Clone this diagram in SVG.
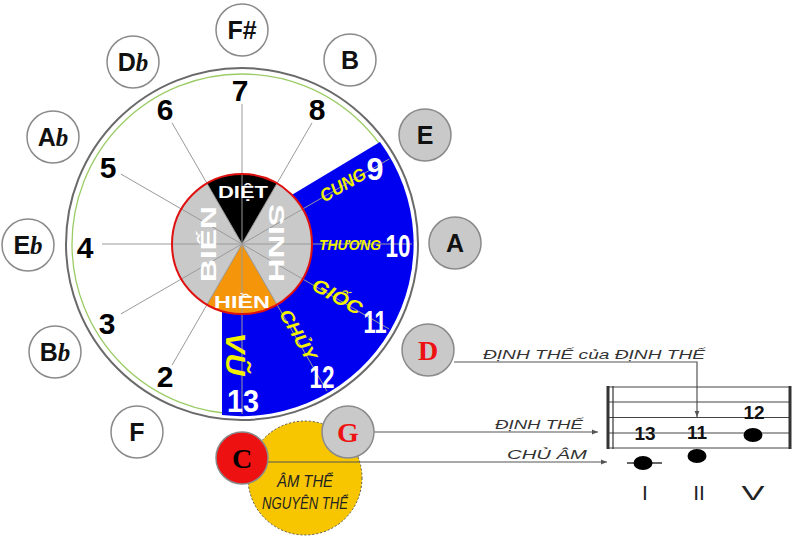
<svg xmlns="http://www.w3.org/2000/svg" width="795" height="537" viewBox="0 0 795 537">
<defs>
<marker id="arr" viewBox="0 0 10 10" refX="10" refY="5" markerWidth="8" markerHeight="6" orient="auto" markerUnits="userSpaceOnUse">
<path d="M0,1 L10,5 L0,9 Z" fill="#555"/>
</marker>
<style>
.note circle{stroke:#8a8a8a;stroke-width:1.5}
.w{fill:#fff}
.g{fill:#c9c9c9}
.nl{font-family:"Liberation Sans",Arial,sans-serif;font-weight:bold;font-size:25px;text-anchor:middle;fill:#111}
.rl{font-family:"Liberation Serif","Times New Roman",serif;font-weight:bold;font-size:28px;text-anchor:middle}
.fl{font-family:"Liberation Serif",serif;font-style:italic;font-weight:bold}
.num{font-family:"Liberation Sans",Arial,sans-serif;font-weight:bold;font-size:30px;text-anchor:middle;fill:#000}
.wn{font-family:"Liberation Sans",Arial,sans-serif;font-weight:bold;font-size:31px;text-anchor:middle;fill:#fff}
.yl{font-family:"Liberation Sans",Arial,sans-serif;font-style:italic;font-weight:bold;text-anchor:middle;fill:#f2f200}
.il{font-family:"Liberation Sans",Arial,sans-serif;font-weight:bold;text-anchor:middle;fill:#fff}
.rad{stroke:#9a9a9a;stroke-width:1}
.conn{stroke:#555;stroke-width:1.2;fill:none}
.lab{font-family:"Liberation Sans",Arial,sans-serif;font-style:italic;font-size:13px;fill:#333}
.sl{stroke:#444;stroke-width:1}
.sn{font-family:"Liberation Sans",Arial,sans-serif;font-weight:bold;font-size:19px;text-anchor:middle;fill:#111}
.rn{font-family:"Liberation Sans",Arial,sans-serif;font-size:21px;text-anchor:middle;fill:#222}
.at{font-family:"Liberation Sans",Arial,sans-serif;font-style:italic;font-size:16px;text-anchor:middle;fill:#222}
</style>
</defs>

<g id="wheel">
<circle cx="242" cy="244" r="176" fill="#fff" stroke="#6a6a6a" stroke-width="2"/>
<circle cx="242" cy="244" r="170" fill="none" stroke="#9ccc66" stroke-width="1.3"/>
<path d="M270,208 L380,142 A172,172 0 0 1 222,415 L222,290 L242,244 Z" fill="#0000f0"/>
<circle cx="242" cy="244" r="70" fill="#c9c9c9"/>
<path d="M242,244 L207,183.4 A70,70 0 0 1 277,183.4 Z" fill="#000"/>
<path d="M242,244 L277,304.6 A70,70 0 0 1 207,304.6 Z" fill="#f5960a"/>
</g>

<g id="connectors">
<line class="rad" x1="242" y1="244" x2="242" y2="104"/>
<line class="rad" x1="242" y1="244" x2="312" y2="122.8"/>
<line class="rad" x1="242" y1="244" x2="172" y2="122.8"/>
<line class="rad" x1="242" y1="244" x2="120.8" y2="174"/>
<line class="rad" x1="242" y1="244" x2="102" y2="244"/>
<line class="rad" x1="242" y1="244" x2="120.8" y2="314"/>
<line class="rad" x1="242" y1="244" x2="172" y2="365.2"/>
<line class="rad" x1="242" y1="244" x2="389.2" y2="159"/>
<line class="rad" x1="242" y1="244" x2="412" y2="244"/>
<line class="rad" x1="242" y1="244" x2="389.2" y2="329"/>
<line class="rad" x1="242" y1="244" x2="327" y2="391.2"/>
<line class="rad" x1="242" y1="244" x2="242" y2="414"/>
</g>

<g id="inner-ring">
<circle cx="242" cy="244" r="70" fill="none" stroke="#e01010" stroke-width="2"/>
<text class="il" x="243" y="198" font-size="17" textLength="50" lengthAdjust="spacingAndGlyphs">DIỆT</text>
<text class="il" x="242" y="308" font-size="17" textLength="56" lengthAdjust="spacingAndGlyphs">HIỀN</text>
<text class="il" transform="translate(277,243) rotate(90)" x="0" y="8" font-size="22" textLength="78" lengthAdjust="spacingAndGlyphs">SINH</text>
<text class="il" transform="translate(208,244) rotate(-90)" x="0" y="8" font-size="22" textLength="76" lengthAdjust="spacingAndGlyphs">BIẾN</text>
</g>

<g id="numbers">
<text class="num" x="240" y="101">7</text>
<text class="num" x="165" y="120">6</text>
<text class="num" x="317" y="120">8</text>
<text class="num" x="108" y="178">5</text>
<text class="num" x="85" y="258">4</text>
<text class="num" x="107" y="334">3</text>
<text class="num" x="165" y="387">2</text>
</g>

<g id="blue-labels">
<text class="wn" x="375" y="180" textLength="17" lengthAdjust="spacingAndGlyphs">9</text>
<text class="wn" x="398" y="257" textLength="25" lengthAdjust="spacingAndGlyphs">10</text>
<text class="wn" x="375" y="333" textLength="23" lengthAdjust="spacingAndGlyphs">11</text>
<text class="wn" x="322" y="388" textLength="25" lengthAdjust="spacingAndGlyphs">12</text>
<text class="wn" x="243" y="412" font-size="36" textLength="32" lengthAdjust="spacingAndGlyphs">13</text>
<text class="yl" transform="translate(343,185) rotate(-30)" x="0" y="6" font-size="18" textLength="50" lengthAdjust="spacingAndGlyphs">CUNG</text>
<text class="yl" x="350" y="250" font-size="15" textLength="62" lengthAdjust="spacingAndGlyphs">THƯƠNG</text>
<text class="yl" transform="translate(337,297) rotate(30)" x="0" y="6" font-size="19" textLength="54" lengthAdjust="spacingAndGlyphs">GIỐC</text>
<text class="yl" transform="translate(298,335) rotate(60)" x="0" y="6" font-size="18" textLength="56" lengthAdjust="spacingAndGlyphs">CHỦY</text>
<text class="yl" transform="translate(235,354) rotate(90)" x="0" y="9" font-size="27" textLength="43" lengthAdjust="spacingAndGlyphs">VŨ</text>
</g>

<g id="am-the">
<circle cx="305" cy="478" r="57" fill="#f7c600" stroke="#555" stroke-width="1" stroke-dasharray="2,2"/>
<text class="at" x="305" y="487" textLength="56" lengthAdjust="spacingAndGlyphs">ÂM THỂ</text>
<text class="at" x="305" y="509" textLength="86" lengthAdjust="spacingAndGlyphs">NGUYÊN THỂ</text>
</g>

<g id="links">
<polyline class="conn" points="454,362 697,362 697,417" marker-end="url(#arr)"/>
<line class="conn" x1="374" y1="432" x2="598" y2="432" marker-end="url(#arr)"/>
<line class="conn" x1="268" y1="462" x2="607" y2="462" marker-end="url(#arr)"/>
<text class="lab" x="483" y="359" textLength="222" lengthAdjust="spacingAndGlyphs">ĐỊNH THẾ của ĐỊNH THẾ</text>
<text class="lab" x="495" y="429" textLength="88" lengthAdjust="spacingAndGlyphs">ĐỊNH THẾ</text>
<text class="lab" x="507" y="459" textLength="80" lengthAdjust="spacingAndGlyphs">CHỦ ÂM</text>
</g>

<g id="note-Fsharp" class="note"><circle class="w" cx="242" cy="30" r="26"/><text class="nl" x="242" y="39">F#</text></g>
<g id="note-B" class="note"><circle class="w" cx="350" cy="60" r="26"/><text class="nl" x="350" y="69">B</text></g>
<g id="note-E" class="note"><circle class="g" cx="425" cy="135" r="26"/><text class="nl" x="425" y="144">E</text></g>
<g id="note-A" class="note"><circle class="g" cx="455" cy="243" r="26"/><text class="nl" x="455" y="252">A</text></g>
<g id="note-D" class="note"><circle class="g" cx="428" cy="350" r="26"/><text class="rl" x="428" y="360" fill="#ee1111">D</text></g>
<g id="note-G" class="note"><circle class="g" cx="348" cy="432" r="26"/><text class="rl" x="348" y="442" fill="#ee1111">G</text></g>
<g id="note-C" class="note"><circle cx="242" cy="458" r="26" fill="#ee1111" stroke="#666"/><text class="rl" x="242" y="468" fill="#000">C</text></g>
<g id="note-F" class="note"><circle class="w" cx="137" cy="432" r="26"/><text class="nl" x="137" y="441">F</text></g>
<g id="note-Bb" class="note"><circle class="w" cx="55" cy="352" r="26"/><text class="nl" x="55" y="361">B<tspan class="fl">b</tspan></text></g>
<g id="note-Eb" class="note"><circle class="w" cx="28" cy="245" r="26"/><text class="nl" x="28" y="254">E<tspan class="fl">b</tspan></text></g>
<g id="note-Ab" class="note"><circle class="w" cx="53" cy="137" r="26"/><text class="nl" x="53" y="146">A<tspan class="fl">b</tspan></text></g>
<g id="note-Db" class="note"><circle class="w" cx="133" cy="62" r="26"/><text class="nl" x="133" y="71">D<tspan class="fl">b</tspan></text></g>

<g id="staff">
<line class="sl" x1="608" y1="387" x2="791" y2="387"/>
<line class="sl" x1="608" y1="402" x2="791" y2="402"/>
<line class="sl" x1="608" y1="417.5" x2="791" y2="417.5"/>
<line class="sl" x1="608" y1="433" x2="791" y2="433"/>
<line class="sl" x1="608" y1="448" x2="791" y2="448"/>
<line x1="608" y1="386" x2="608" y2="449" stroke="#333" stroke-width="3"/>
<line x1="613" y1="386" x2="613" y2="449" stroke="#333" stroke-width="1.2"/>
<line x1="790" y1="386" x2="790" y2="449" stroke="#333" stroke-width="3"/>
<line x1="627" y1="463" x2="662" y2="463" stroke="#333" stroke-width="1.5"/>
<ellipse cx="643" cy="463" rx="9.5" ry="7" fill="#000"/>
<ellipse cx="697" cy="456" rx="9.5" ry="7" fill="#000"/>
<ellipse cx="753" cy="435" rx="9.5" ry="7" fill="#000"/>
<text class="sn" x="645" y="440">13</text>
<text class="sn" x="697" y="439">11</text>
<text class="sn" x="754" y="419">12</text>
<text class="rn" x="645" y="500">I</text>
<text class="rn" x="699" y="500">II</text>
<text class="rn" x="753" y="500" textLength="23" lengthAdjust="spacingAndGlyphs">V</text>
</g>
</svg>
